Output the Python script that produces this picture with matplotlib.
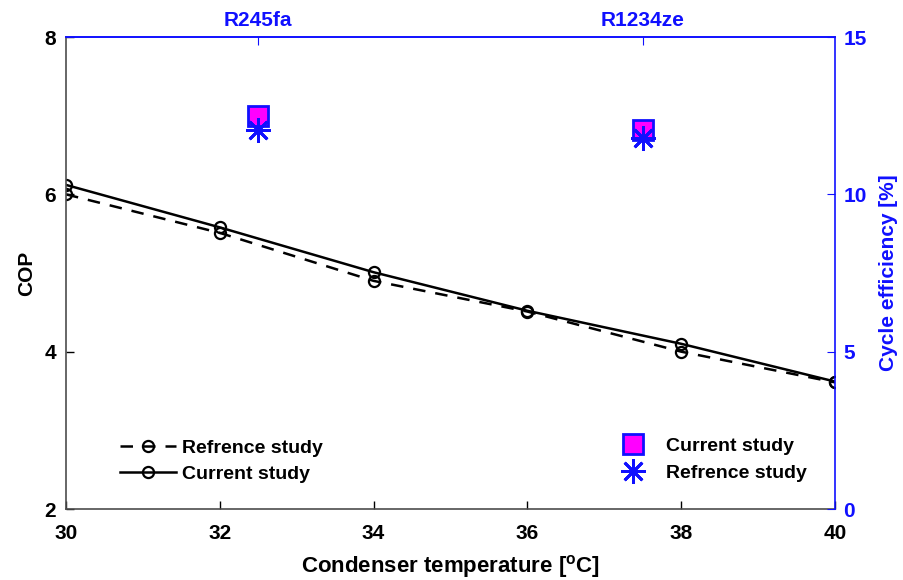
import matplotlib.pyplot as plt
from matplotlib.lines import Line2D

plt.rcParams['font.family'] = ['Liberation Sans', 'DejaVu Sans']
plt.rcParams['font.weight'] = 'bold'

temps = [30, 32, 34, 36, 38, 40]
cop_current = [6.12, 5.58, 5.01, 4.52, 4.10, 3.62]
cop_reference = [6.00, 5.51, 4.90, 4.51, 4.00, 3.61]

fluids = ['R245fa', 'R1234ze']
fluid_pos = [32.5, 37.5]
eff_current = [12.5, 12.05]
eff_reference = [12.05, 11.8]

blue = '#1010ff'
fig = plt.figure(figsize=(9.04, 5.8), dpi=100)
ax = fig.add_axes([0.073, 0.1224, 0.8507, 0.8138])

ax.plot(temps, cop_reference, '--', color='black', lw=1.8, marker='o',
        ms=8, mfc='none', mew=1.6, dashes=(5, 4))
ax.plot(temps, cop_current, '-', color='black', lw=1.8, marker='o',
        ms=8, mfc='none', mew=1.6)
ax.set_xlim(30, 40)
ax.set_ylim(2, 8)
ax.set_xticks(range(30, 41, 2))
ax.set_yticks([2, 4, 6, 8])
ax.tick_params(direction='in', labelsize=15, length=6, width=1, colors='black')
ax.tick_params(axis='x', pad=11)
ax.tick_params(axis='y', pad=7)
for s in ['left', 'bottom']:
    ax.spines[s].set_color('0.3')
    ax.spines[s].set_linewidth(1.2)
ax.spines['top'].set_visible(False)
ax.spines['right'].set_visible(False)
ax.set_xlabel('Condenser temperature [$\\mathregular{^{o}}$C]', fontsize=16,
              fontweight='bold', labelpad=7)
ax.set_ylabel('COP', fontsize=15, fontweight='bold', labelpad=6)

ax2 = ax.twinx()
ax2.plot(fluid_pos, eff_current, ls='none', marker='s', ms=15, mfc='#ff00ff',
         mec=blue, mew=2)
ax2.plot(fluid_pos, eff_reference, ls='none', marker=(8, 2, 0), ms=18,
         color=blue, mew=2)
ax2.set_ylim(0, 15)
ax2.set_yticks([0, 5, 10, 15])
ax2.tick_params(direction='in', labelsize=15, length=6, colors=blue, pad=6)
for s in ['left', 'bottom']:
    ax2.spines[s].set_visible(False)
ax2.spines['right'].set_color(blue)
ax2.spines['top'].set_color(blue)
ax2.spines['right'].set_linewidth(1.2)
ax2.spines['top'].set_linewidth(1.2)
ax2.set_ylabel('Cycle efficiency [%]', fontsize=15, fontweight='bold',
               color=blue, labelpad=9)

top = ax2.secondary_xaxis('top')
top.set_xticks(fluid_pos, fluids)
top.tick_params(direction='in', labelsize=15, length=6, colors=blue, pad=5)
top.spines['top'].set_color(blue)
top.spines['top'].set_linewidth(1.2)

h1 = [Line2D([], [], ls='--', color='black', lw=1.8, marker='o', ms=8,
             mfc='none', mew=1.6, dashes=(5, 4)),
      Line2D([], [], ls='-', color='black', lw=1.8, marker='o', ms=8,
             mfc='none', mew=1.6)]
leg1 = ax2.legend(h1, ['Refrence study', 'Current study'], loc='upper left',
                  bbox_to_anchor=(0.07, 0.147), frameon=False, fontsize=14,
                  handlelength=2.9, handletextpad=0.3, borderpad=0,
                  borderaxespad=0, labelspacing=0.4)
ax2.add_artist(leg1)

h2 = [Line2D([], [], ls='none', marker='s', ms=15, mfc='#ff00ff', mec=blue, mew=2),
      Line2D([], [], ls='none', marker=(8, 2, 0), ms=18, color=blue, mew=2)]
ax2.legend(h2, ['Current study', 'Refrence study'], loc='upper left',
           bbox_to_anchor=(0.718, 0.152), frameon=False, fontsize=14,
           handlelength=1.5, handletextpad=0.95, borderpad=0,
           borderaxespad=0, labelspacing=0.5)

fig.savefig('out.png', dpi=100)
